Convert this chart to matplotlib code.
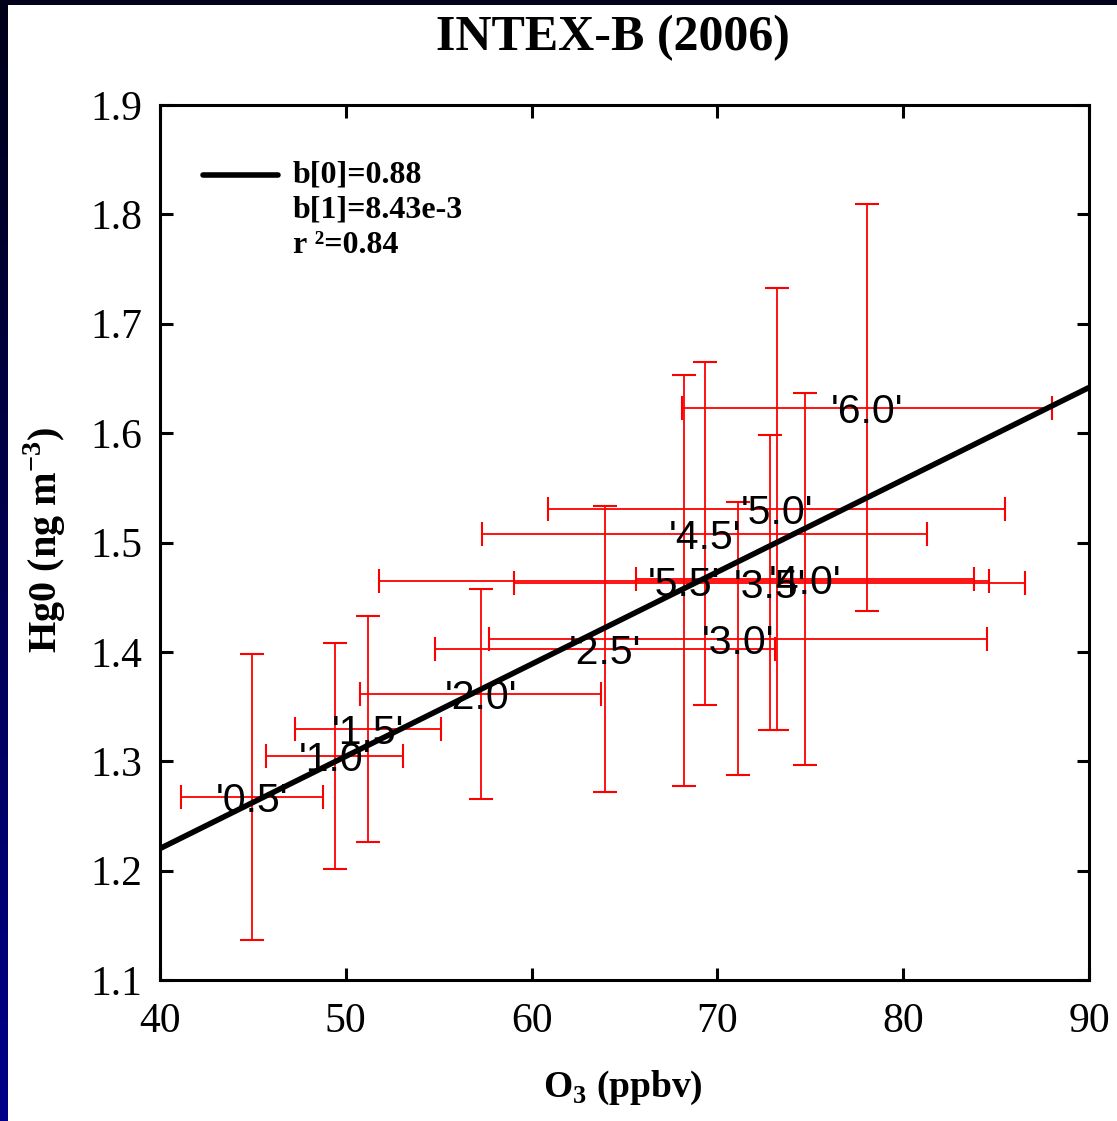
"""
INTEX-B (2006): Hg0 vs O3 binned by altitude, with linear fit.
"""

import numpy as np
import matplotlib
matplotlib.use("Agg")
import matplotlib.pyplot as plt

# Data (bin centre, 1-sigma spread)
alt_labels = ["'0.5'", "'1.0'", "'1.5'", "'2.0'", "'2.5'", "'3.0'",
              "'3.5'", "'4.0'", "'4.5'", "'5.0'", "'5.5'", "'6.0'"]
o3 = [44.94, 49.40, 51.21, 57.25, 63.95, 71.11,
      72.82, 74.70, 69.32, 73.19, 68.21, 78.06]
o3_err = [3.82, 3.69, 3.92, 6.50, 9.16, 13.38,
          13.76, 9.09, 11.97, 12.29, 16.41, 9.94]
hg0 = [1.2675, 1.3048, 1.3294, 1.3614, 1.4030, 1.4122,
       1.4632, 1.4663, 1.5081, 1.5305, 1.4650, 1.6233]
hg0_err = [0.131, 0.103, 0.1035, 0.096, 0.1307, 0.125,
           0.135, 0.170, 0.157, 0.202, 0.188, 0.186]

# Linear fit
fit_b0 = 0.883
fit_b1 = 8.43e-3
fit_text = ["b[0]=0.88", "b[1]=8.43e-3", "r \u00b2=0.84"]

XLIM = (40, 90)
YLIM = (1.1, 1.9)

W, H = 1117, 1121

plt.rcParams['font.family'] = 'Liberation Serif'
plt.rcParams['mathtext.fontset'] = 'custom'
plt.rcParams['mathtext.rm'] = 'Liberation Serif:bold'
plt.rcParams['mathtext.bf'] = 'Liberation Serif:bold'

fig = plt.figure(figsize=(W / 100, H / 100), dpi=100)
fig.patch.set_facecolor('white')

# Dark blue frame strips (left gradient, top bar)
ax_left = fig.add_axes([0, 0, 8 / W, 1])
grad = np.linspace(0, 1, 256).reshape(-1, 1)
cmap = matplotlib.colors.LinearSegmentedColormap.from_list(
    'frame', ['#00008a', '#000018'])
ax_left.imshow(grad, aspect='auto', cmap=cmap, origin='lower')
ax_left.axis('off')
ax_top = fig.add_axes([0, 1 - 5 / H, 1, 5 / H])
ax_top.set_facecolor('#02021c')
ax_top.set_xticks([])
ax_top.set_yticks([])
for s in ax_top.spines.values():
    s.set_visible(False)

ax = fig.add_axes([160 / W, 1 - 980 / H, 929 / W, 875 / H])

ax.errorbar(o3, hg0, xerr=o3_err, yerr=hg0_err, fmt='none',
            ecolor='#ff0000', elinewidth=1.3, capsize=8.4, capthick=1.5,
            zorder=2)

xfit = np.array(XLIM)
ax.plot(xfit, fit_b0 + fit_b1 * xfit, color='black', linewidth=4.0,
        solid_capstyle='butt', zorder=3)

for lab, x, y in zip(alt_labels, o3, hg0):
    ax.text(x, y, lab, ha='center', va='center_baseline',
            family='Liberation Sans', fontsize=29.5, zorder=4)

# Fit "legend"
ax.plot([0.0463, 0.127], [0.92, 0.92], transform=ax.transAxes,
        color='black', linewidth=4.0, solid_capstyle='round')
for i, t in enumerate(fit_text):
    ax.text(0.143, 0.92 - i * 0.0405, t, transform=ax.transAxes,
            ha='left', va='center', fontsize=23, fontweight='bold')

ax.set_xlim(*XLIM)
ax.set_ylim(*YLIM)
ax.set_xticks(np.arange(40, 91, 10))
ax.set_yticks(np.arange(1.1, 1.91, 0.1))
ax.set_yticklabels([f'{v:.1f}' for v in np.arange(1.1, 1.91, 0.1)])
ax.tick_params(direction='in', length=9, width=2.2, top=True, right=True,
               labelsize=30)
ax.tick_params(axis='x', pad=16)
ax.tick_params(axis='y', pad=13)
for s in ax.spines.values():
    s.set_linewidth(2.2)

fig.text(613 / W, 1 - 38 / H, 'INTEX-B (2006)', ha='center', va='center',
         fontsize=36, fontweight='bold')
fig.text(623 / W, 1 - 1088 / H, r'O$_{\mathbf{3}}$ (ppbv)', ha='center',
         va='center', fontsize=27, fontweight='bold')
fig.text(45 / W, 1 - 540 / H, r'Hg0 (ng m$^{\mathbf{-3}}$)', ha='center',
         va='center', rotation=90, fontsize=29, fontweight='bold')

fig.savefig('out.png', dpi=100)
